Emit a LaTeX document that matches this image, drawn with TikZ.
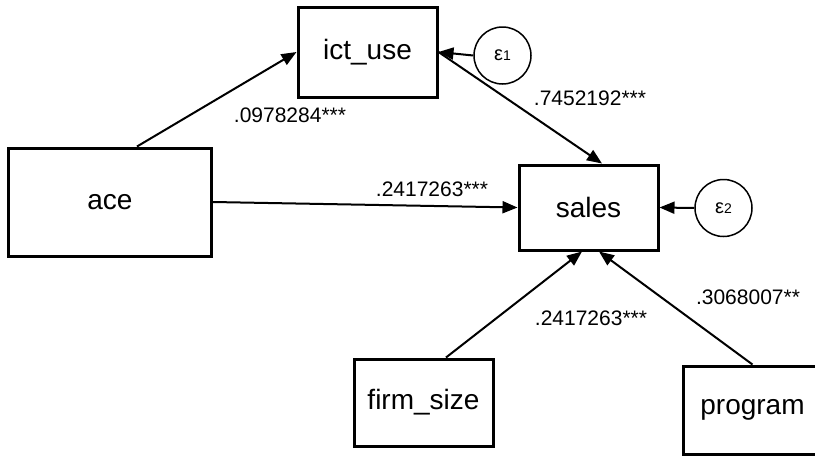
\documentclass[tikz,border=0pt]{standalone}
\usepackage{fontspec}
\setmainfont{Liberation Sans}
\usetikzlibrary{positioning,arrows.meta}

\begin{document}
\begin{tikzpicture}[x=1pt, y=-1pt,
	varbox/.style={rectangle, draw=black, text=black, line width=3pt, font=\fontsize{28}{30}\selectfont, inner sep=0pt},
	errcircle/.style={circle, draw=black, line width=1.5pt, minimum size=57pt, inner sep=0pt},
	coef/.style={text=black, font=\fontsize{21}{23}\selectfont, inner sep=0pt},
	path/.style={-{Triangle[length=15pt, width=12pt]}, line width=2pt},
	]
	\clip (0,0) rectangle (815,456);
	%Nodes
	\node[varbox, minimum width=139pt, minimum height=90pt] (ict) at (367.5, 52) {ict\_use};
	%
	\node[varbox, minimum width=203pt, minimum height=108pt] (ace) at (110, 202) {ace};
	%
	\node[varbox, minimum width=139pt, minimum height=85pt] (sales) at (588.5, 207.5) {sales};
	%
	\node[varbox, minimum width=139pt, minimum height=87pt] (firm) at (423.5, 402.5) {firm\_size};
	%
	\node[varbox, minimum width=139pt, minimum height=88pt] (program) at (752.5, 410) {program};
	%
	\node[errcircle] (e1) at (502.5, 55.5) {\fontsize{20}{20}\selectfont ε\fontsize{14}{14}\selectfont 1};
	\node[errcircle] (e2) at (723.5, 208) {\fontsize{20}{20}\selectfont ε\fontsize{14}{14}\selectfont 2};
	
	%Paths
	\draw[path] ([xshift=27pt]ace.north) -- (ict.west);
	\draw[path] (ace.east) -- (sales.west);
	\draw[path] (ict.east) -- ([xshift=13.5pt]sales.north);
	\draw[path] ([xshift=22.5pt]firm.north) -- ([xshift=-6.5pt]sales.south);
	\draw[path] (program.north) -- ([xshift=10.5pt]sales.south);
	%
	\draw[path] (e1.west) -- (ict.east);
	\draw[path] (e2.west) -- (sales.east);
	
	%Coefficients
	\node[coef] (c1) at (290, 115) {.0978284***};
	\node[coef] (c2) at (590, 98) {.7452192***};
	\node[coef] (c3) at (432, 189) {.2417263***};
	\node[coef] (c4) at (591, 318) {.2417263***};
	\node[coef] (c5) at (748, 297) {.3068007**};
\end{tikzpicture}
\end{document}
